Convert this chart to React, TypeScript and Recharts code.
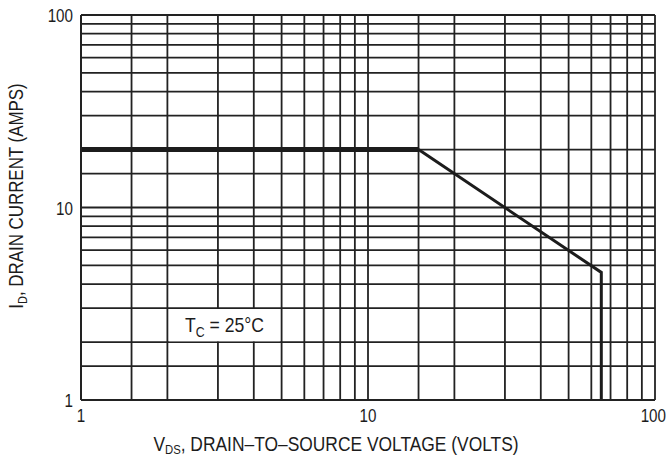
import React from 'react';
import { LineChart, Line, XAxis, YAxis, CartesianGrid, ReferenceArea } from 'recharts';

// ---- data ----
const gridTicks = [1, 1.5, 2, 3, 4, 5, 6, 7, 8, 9, 10, 15, 20, 30, 40, 50, 60, 70, 80, 90, 100];
const decadeLabels = [1, 10, 100];
const vdsVolts = [1, 15, 65, 65];
const idAmps = [20, 20, 4.6, 1];
const annotationV = [2.03, 4.93];
const annotationI = [2.02, 2.97];
const annotationTitle = 'T';
const annotationSub = 'C';
const annotationRest = ' = 25°C';
const xTitleMain = 'V';
const xTitleSub = 'DS';
const xTitleRest = ', DRAIN–TO–SOURCE VOLTAGE (VOLTS)';
const yTitleMain = 'I';
const yTitleSub = 'D';
const yTitleRest = ', DRAIN CURRENT (AMPS)';

const points = vdsVolts.map((v, k) => ({ v, i: idAmps[k] }));
const currentLimit = points.slice(0, 2);
const powerLimit = points.slice(1);

const FONT = "'Liberation Sans Narrow', 'Arial Narrow', 'Liberation Sans', Arial, sans-serif";
const INK = '#1c1c1c';
const GRID = '#222222';

const Narrow = ({ x, y, sx, rotate = 0, anchor = 'middle', size, children }: any) => (
  <g transform={`translate(${x},${y}) rotate(${rotate}) scale(${sx},1)`}>
    <text x={0} y={0} textAnchor={anchor} fontFamily={FONT} fontSize={size} fill={INK}>
      {children}
    </text>
  </g>
);

const XTick = (props: any) => {
  const { x, y, payload } = props;
  if (!decadeLabels.includes(payload.value)) return <g />;
  const last = payload.value === 100;
  return (
    <Narrow x={last ? x + 11 : x} y={y + 14} sx={0.8} size={19} anchor={last ? 'end' : 'middle'}>
      {payload.value}
    </Narrow>
  );
};

const YTick = (props: any) => {
  const { x, y, payload } = props;
  if (!decadeLabels.includes(payload.value)) return <g />;
  return (
    <Narrow x={x} y={y + 7} sx={0.8} size={19} anchor="end">
      {payload.value}
    </Narrow>
  );
};

const XTitle = () => (
  <Narrow x={336} y={451} sx={0.87} size={20}>
    {xTitleMain}
    <tspan dy={3} fontSize={13}>{xTitleSub}</tspan>
    <tspan dy={-3}>{xTitleRest}</tspan>
  </Narrow>
);

const YTitle = () => (
  <Narrow x={23} y={196} rotate={-90} sx={0.845} size={20}>
    {yTitleMain}
    <tspan dy={4} fontSize={13}>{yTitleSub}</tspan>
    <tspan dy={-4}>{yTitleRest}</tspan>
  </Narrow>
);

const TcLabel = (props: any) => {
  const vb = props.viewBox || { x: 165, y: 308, width: 113, height: 35 };
  const cx = vb.x + vb.width / 2;
  const cy = vb.y + vb.height / 2;
  return (
    <Narrow x={cx} y={cy + 7} sx={0.88} size={20}>
      {annotationTitle}
      <tspan dy={5} fontSize={14}>{annotationSub}</tspan>
      <tspan dy={-5}>{annotationRest}</tspan>
    </Narrow>
  );
};

export default function App() {
  return (
    <div style={{ position: 'absolute', left: 0, top: 0, width: 667, height: 458, background: '#fff' }}>
      <LineChart width={667} height={458} margin={{ top: 15, right: 12, bottom: 28, left: 21 }}>
        <CartesianGrid stroke={GRID} strokeWidth={1.8} />
        <XAxis
          dataKey="v"
          type="number"
          scale="log"
          domain={[1, 100]}
          ticks={gridTicks}
          interval={0}
          allowDataOverflow
          tickSize={0}
          tickMargin={8}
          tickLine={false}
          axisLine={{ stroke: GRID, strokeWidth: 2 }}
          tick={<XTick />}
          height={30}
          label={<XTitle />}
        />
        <YAxis
          dataKey="i"
          type="number"
          scale="log"
          domain={[1, 100]}
          ticks={gridTicks}
          interval={0}
          allowDataOverflow
          tickSize={0}
          tickMargin={8}
          tickLine={false}
          axisLine={{ stroke: GRID, strokeWidth: 2 }}
          tick={<YTick />}
          width={60}
          label={<YTitle />}
        />
        <ReferenceArea
          x1={annotationV[0]}
          x2={annotationV[1]}
          y1={annotationI[0]}
          y2={annotationI[1]}
          fill="#ffffff"
          fillOpacity={1}
          stroke="none"
          label={<TcLabel />}
        />
        <Line
          data={currentLimit}
          dataKey="i"
          type="linear"
          stroke={INK}
          strokeWidth={5}
          dot={false}
          activeDot={false}
          isAnimationActive={false}
        />
        <Line
          data={powerLimit}
          dataKey="i"
          type="linear"
          stroke={INK}
          strokeWidth={3}
          strokeLinejoin="miter"
          dot={false}
          activeDot={false}
          isAnimationActive={false}
        />
      </LineChart>
    </div>
  );
}
